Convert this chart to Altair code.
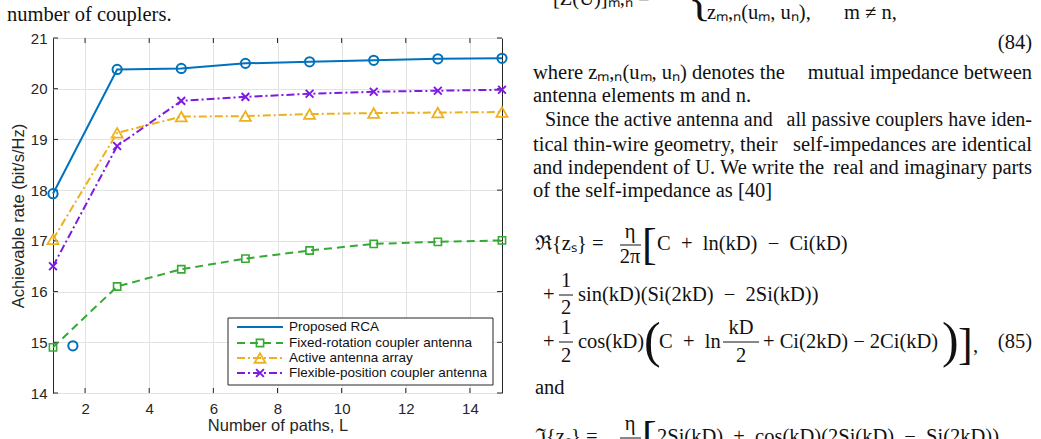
import altair as alt
import pandas as pd

# ---------------- data ----------------
L = [1, 3, 5, 7, 9, 11, 13, 15]
rca = [17.93, 20.38, 20.40, 20.50, 20.53, 20.56, 20.59, 20.60]
fixed_rot = [14.90, 16.10, 16.44, 16.65, 16.81, 16.94, 16.98, 17.01]
active = [17.03, 19.13, 19.45, 19.46, 19.50, 19.52, 19.53, 19.54]
flex_pos = [16.50, 18.87, 19.76, 19.84, 19.90, 19.94, 19.96, 19.98]
stray_L = [1.62]
stray_rate = [14.93]

series_names = [
    "Proposed RCA",
    "Fixed-rotation coupler antenna",
    "Active antenna array",
    "Flexible-position coupler antenna",
]
x_ticks = [2, 4, 6, 8, 10, 12, 14]
y_ticks = [14, 15, 16, 17, 18, 19, 20, 21]
x_title = "Number of paths, L"
y_title = "Achievable rate (bit/s/Hz)"

SP = "\u2002"  # wider operator spacing for the formulas
caption_text = ["number of couplers."]
column_text = [
    "[Z(U)]ₘ,ₙ =", "{", "zₘ,ₙ(uₘ, uₙ),", "m ≠ n,", "(84)",
    "where zₘ,ₙ(uₘ, uₙ) denotes the", "mutual impedance between",
    "antenna elements m and n.",
    "Since the active antenna and", "all passive couplers have iden-",
    "tical thin-wire geometry, their", "self-impedances are identical",
    "and independent of U. We write the", "real and imaginary parts",
    "of the self-impedance as [40]",
    "ℜ{zₛ} =", "η", "2π", "[", f"C{SP}+{SP}ln(kD){SP}−{SP}Ci(kD)",
    "+", "1", "2", f"sin(kD)(Si(2kD){SP}−{SP}2Si(kD))",
    "+", "1", "2", "cos(kD)", "(", f"C{SP}+{SP}ln", "kD", "2",
    "+ Ci(2kD) − 2Ci(kD)", ")", "]", ",", "(85)",
    "and",
    "ℑ{zₛ} =", "η", "[", f"2Si(kD){SP}+{SP}cos(kD)(2Si(kD){SP}−{SP}Si(2kD))",
]

# ---------------- layout / style ----------------
OX, OY = 53, 38          # plot origin on the page
W, H = 449, 355
DARK = "#262626"
GRID = "#e3e3e3"
SANS = "Liberation Sans"
SERIF = "Liberation Serif"

colors = ["#0072BD", "#36A935", "#EDB120", "#7F1AE0"]
dashes = [None, [8, 5], [8, 3, 2, 3], [8, 3, 2, 3]]
xmark = "M-1,-1L1,1M-1,1L1,-1"
shapes = ["circle", "square", "triangle-up", xmark]
sizes = [85, 52, 120, 60]
mstroke = [2, 1.6, 1.8, 2]

TS = 20.5  # body text size
# page positions of the text pieces (x, y, size, align)
column_pos = [
    (553, -1, TS, "left"), (688, 1, 48, "left"), (707, 13, TS, "left"), (844, 13, TS, "left"),
    (1032, 43, TS, "right"),
    (533, 73, TS, "left"), (1032, 73, TS, "right"),
    (533, 96, TS, "left"),
    (545, 120, 20, "left"), (1032, 120, 20, "right"),
    (533, 145, TS, "left"), (1032, 145, TS, "right"),
    (533, 168, TS, "left"), (1032, 168, TS, "right"),
    (533, 191, TS, "left"),
    (535, 244, TS, "left"), (630, 232, TS, "center"), (630, 257, TS, "center"), (642, 246, 44, "left"),
    (657, 244, TS, "left"),
    (543, 295, TS, "left"), (566, 281, TS, "center"), (566, 308, TS, "center"), (578, 295, TS, "left"),
    (543, 342, TS, "left"), (566, 328, TS, "center"), (566, 356, TS, "center"), (578, 342, TS, "left"),
    (644, 342, 50, "left"), (659, 342, TS, "left"), (741, 328, TS, "center"), (741, 356, TS, "center"),
    (763, 342, TS, "left"), (942, 342, 50, "left"), (958, 346, 44, "left"), (973, 346, TS, "left"),
    (1032, 342, TS, "right"),
    (535, 388, TS, "left"),
    (535, 437, TS, "left"), (630, 424, TS, "center"), (642, 439, 44, "left"), (657, 437, TS, "left"),
]
caption_pos = [(7, 15, TS, "left")]
frac_bars = [(620, 641, 245), (559, 573, 295), (559, 573, 342), (723, 759, 342), (620, 641, 438)]

# ---------------- scales and axes ----------------
xs = alt.Scale(domain=[1, 15], nice=False, zero=False)
ys = alt.Scale(domain=[14, 21], nice=False, zero=False)

xaxis = alt.Axis(values=x_ticks, grid=True, gridColor=GRID, gridWidth=1, ticks=False, domain=False,
                 labelFontSize=15, labelPadding=8, labelFont=SANS, labelColor=DARK, format="d",
                 title=x_title, titleFontSize=16.5, titleFontWeight="normal", titleFont=SANS,
                 titleColor=DARK, titlePadding=1)
yaxis = alt.Axis(values=y_ticks, grid=True, gridColor=GRID, gridWidth=1, ticks=False, domain=False,
                 labelFontSize=15, labelPadding=6, labelFont=SANS, labelColor=DARK, format="d",
                 title=y_title, titleFontSize=16.5, titleFontWeight="normal", titleFont=SANS,
                 titleColor=DARK, titlePadding=4)

X = alt.X("L:Q", scale=xs, axis=xaxis)
Y = alt.Y("rate:Q", scale=ys, axis=yaxis)

layers = []

# inward ticks on all four sides
xt = alt.Chart(pd.DataFrame({"L": x_ticks}))
yt = alt.Chart(pd.DataFrame({"rate": y_ticks}))
layers.append(xt.mark_rule(color=DARK, strokeWidth=1).encode(x=X, y=alt.value(H), y2=alt.value(H - 5)))
layers.append(xt.mark_rule(color=DARK, strokeWidth=1).encode(x=X, y=alt.value(0), y2=alt.value(5)))
layers.append(yt.mark_rule(color=DARK, strokeWidth=1).encode(y=Y, x=alt.value(0), x2=alt.value(5)))
layers.append(yt.mark_rule(color=DARK, strokeWidth=1).encode(y=Y, x=alt.value(W), x2=alt.value(W - 5)))

all_series = [rca, fixed_rot, active, flex_pos]
for i, vals in enumerate(all_series):
    d = alt.Chart(pd.DataFrame({"L": L, "rate": vals, "series": series_names[i]}))
    lkw = dict(color=colors[i], strokeWidth=2)
    if dashes[i]:
        lkw["strokeDash"] = dashes[i]
    layers.append(d.mark_line(**lkw).encode(x=X, y=Y))
    layers.append(d.mark_point(shape=shapes[i], size=sizes[i], filled=False, color=colors[i],
                               strokeWidth=mstroke[i], opacity=1).encode(x=X, y=Y))

# stray circle marker visible in the figure
layers.append(alt.Chart(pd.DataFrame({"L": stray_L, "rate": stray_rate})).mark_point(
    shape="circle", size=sizes[0], filled=False, color=colors[0], strokeWidth=mstroke[0], opacity=1
).encode(x=X, y=Y))

# ---------------- legend ----------------
one = pd.DataFrame({"k": [0]})
layers.append(alt.Chart(one).mark_rect(fill="white", stroke=DARK, strokeWidth=1).encode(
    x=alt.value(228 - OX), x2=alt.value(493 - OX), y=alt.value(318 - OY), y2=alt.value(385 - OY)))
row_y = [327, 343, 358, 373]
for i, name in enumerate(series_names):
    ly = row_y[i] - OY
    rkw = dict(color=colors[i], strokeWidth=2)
    if dashes[i]:
        rkw["strokeDash"] = dashes[i]
    dd = alt.Chart(pd.DataFrame({"name": [name]}))
    layers.append(dd.mark_rule(**rkw).encode(x=alt.value(237 - OX), x2=alt.value(283 - OX), y=alt.value(ly)))
    if i > 0:
        layers.append(dd.mark_point(shape=shapes[i], size=sizes[i], filled=False, color=colors[i],
                                    strokeWidth=mstroke[i], opacity=1).encode(
            x=alt.value(260 - OX), y=alt.value(ly)))
    layers.append(dd.mark_text(align="left", baseline="middle", font=SANS, fontSize=13.5, color="#111111").encode(
        x=alt.value(289 - OX), y=alt.value(ly), text="name:N"))


# ---------------- surrounding page text ----------------
def txt(s, pos, font=SERIF):
    px, py, size, align = pos
    return alt.Chart(pd.DataFrame({"t": [s]})).mark_text(
        align=align, baseline="middle", font=font, fontSize=size, color="#111111"
    ).encode(x=alt.value(px - OX), y=alt.value(py - OY), text="t:N")


for s, p in zip(caption_text, caption_pos):
    layers.append(txt(s, p))
for s, p in zip(column_text, column_pos):
    layers.append(txt(s, p))
for x0, x1, yb in frac_bars:
    layers.append(alt.Chart(one).mark_rule(color="#111111", strokeWidth=1).encode(
        x=alt.value(x0 - OX), x2=alt.value(x1 - OX), y=alt.value(yb - OY)))

chart = alt.layer(*layers).properties(
    width=W, height=H,
    padding={"left": OX, "top": OY, "right": 1041 - OX - W, "bottom": 439 - OY - H},
    autosize=alt.AutoSizeParams(type="none"),
    background="white",
).configure_view(stroke=DARK, strokeWidth=1)

chart.save("out.html", embed_options={"renderer": "svg", "actions": False})
